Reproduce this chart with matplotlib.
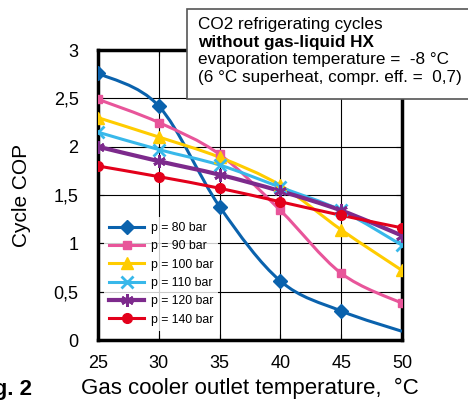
import numpy as np
import matplotlib
matplotlib.use("Agg")
import matplotlib.pyplot as plt
from matplotlib.path import Path
from matplotlib.patches import PathPatch, Rectangle
from matplotlib.lines import Line2D

plt.rcParams['font.family'] = ['Liberation Sans', 'DejaVu Sans']

temps = [25, 30, 35, 40, 45, 50]
cop_80 = [2.76, 2.42, 1.38, 0.61, 0.30, 0.09]
cop_90 = [2.49, 2.25, 1.92, 1.34, 0.69, 0.38]
cop_100 = [2.30, 2.10, 1.89, 1.60, 1.14, 0.72]
cop_110 = [2.15, 1.97, 1.81, 1.58, 1.34, 0.98]
cop_120 = [2.00, 1.85, 1.71, 1.54, 1.34, 1.08]
cop_140 = [1.80, 1.69, 1.57, 1.43, 1.29, 1.16]
labels = ['p = 80 bar', 'p = 90 bar', 'p = 100 bar', 'p = 110 bar', 'p = 120 bar', 'p = 140 bar']

series = [cop_80, cop_90, cop_100, cop_110, cop_120, cop_140]
colors = ['#0a62ad', '#e8559a', '#ffcc00', '#38b8ea', '#7d2a8c', '#e3001b']
markers = ['D', 's', '^', 'x', (6, 2, 0), 'o']
msizes = [7, 6, 9, 8, 9, 7]
lwidths = [2.2, 2.2, 2.2, 2.2, 3.0, 2.2]


def smooth_path(xs, ys):
    # Catmull-Rom -> cubic bezier so the curves look like the original
    pts = np.column_stack([xs, ys]).astype(float)
    verts = [pts[0]]
    codes = [Path.MOVETO]
    n = len(pts)
    for i in range(n - 1):
        p0 = pts[i - 1] if i > 0 else pts[i]
        p1, p2 = pts[i], pts[i + 1]
        p3 = pts[i + 2] if i + 2 < n else pts[i + 1]
        c1 = p1 + (p2 - p0) / 6.0
        c2 = p2 - (p3 - p1) / 6.0
        verts += [c1, c2, p2]
        codes += [Path.CURVE4] * 3
    return Path(verts, codes)


fig = plt.figure(figsize=(4.68, 4.03), dpi=100)
ax = fig.add_axes([0.2094, 0.1563, 0.6496, 0.7196])

for ys, c, m, ms, lw, lab in zip(series, colors, markers, msizes, lwidths, labels):
    ax.add_patch(PathPatch(smooth_path(temps, ys), facecolor='none', edgecolor=c, lw=lw, zorder=3))
    mx, my = temps, ys
    if ys is cop_80:
        mx, my = temps[:-1], ys[:-1]
    ax.plot(mx, my, linestyle='none', marker=m, color=c, markersize=ms,
            markeredgewidth=2 if m in ('x', (6, 2, 0)) else 1, zorder=4)

ax.set_xlim(25, 50)
ax.set_ylim(0, 3)
ax.set_xticks(temps)
ax.set_yticks([0, 0.5, 1, 1.5, 2, 2.5, 3])
ax.set_yticklabels(['0', '0,5', '1', '1,5', '2', '2,5', '3'])
ax.grid(True, color='black', linewidth=0.8)
ax.tick_params(direction='in', length=4, width=0.8, labelsize=13, top=True, right=True)
ax.tick_params(axis='x', pad=11)
ax.tick_params(axis='y', pad=14)
for sp in ax.spines.values():
    sp.set_linewidth(2.5)
ax.set_ylabel('Cycle COP', fontsize=15)
ax.yaxis.set_label_coords(-0.22, 0.5)
ax.set_xlabel('Gas cooler outlet temperature,  \u00b0C', fontsize=16, labelpad=4)

handles = [Line2D([], [], color=c, marker=m, markersize=ms, lw=lw,
                  markeredgewidth=2 if m in ('x', (6, 2, 0)) else 1)
           for c, m, ms, lw in zip(colors, markers, msizes, lwidths)]
leg = ax.legend(handles, labels, loc='upper left', bbox_to_anchor=(0.0, 0.445),
                frameon=True, fontsize=8.8, handlelength=2.9, handletextpad=0.5,
                labelspacing=0.52, borderpad=0.4, fancybox=False)
leg.get_frame().set_edgecolor('white')
leg.get_frame().set_linewidth(0)
leg.set_zorder(5)

# info box, partly outside the axes
fig.patches.append(Rectangle((187 / 468, 1 - 99 / 403), 0.7, 90 / 403, transform=fig.transFigure,
                             facecolor='white', edgecolor='#555555', lw=1.2, zorder=5))
box_lines = ['CO2 refrigerating cycles', 'without gas-liquid HX',
             'evaporation temperature =  -8 \u00b0C', '(6 \u00b0C superheat, compr. eff. =  0,7)']
for i, t in enumerate(box_lines):
    fig.text(198 / 468, 1 - (25 + 17.4 * i) / 403, t, fontsize=12.3,
             fontweight='bold' if i == 1 else 'normal', va='center', ha='left', zorder=6)

fig.text(32 / 468, 1 - 389 / 403, 'Fig. 2', fontsize=16, fontweight='bold', ha='right', va='center')

fig.savefig('out.png', dpi=100)
